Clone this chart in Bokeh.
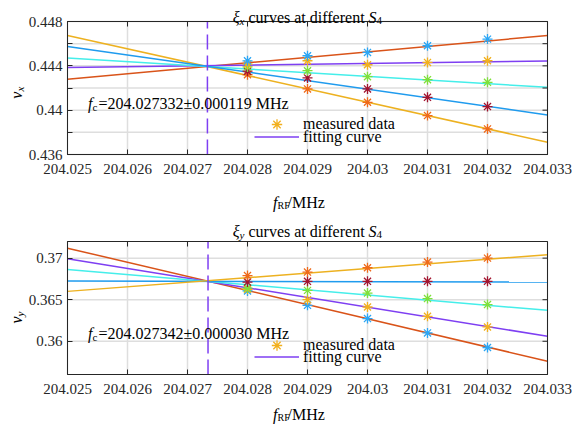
import math
from bokeh.plotting import figure
from bokeh.models import Range1d, FixedTicker, LinearAxis, Label, Legend, LegendItem
from bokeh.layouts import column
from bokeh.embed import file_html
from bokeh.resources import INLINE

# ---------------- data ----------------
fit_x = [204.025, 204.033]
meas_x = [204.028, 204.029, 204.030, 204.031, 204.032]

x_ticks = [204.025, 204.026, 204.027, 204.028, 204.029, 204.030, 204.031, 204.032, 204.033]
x_tick_labels = ["204.025", "204.026", "204.027", "204.028", "204.029",
                 "204.03", "204.031", "204.032", "204.033"]

# top panel (xi_x)
top_y_range = [0.436, 0.448]
top_fc = 204.027332
top_fc_text = "=204.027332\u00b10.000119 MHz"
top_fc_y = 0.44059
top_y_ticks = [0.436, 0.438, 0.440, 0.442, 0.444, 0.446, 0.448]
top_y_tick_labels = ["0.436", "", "0.44", "", "0.444", "", "0.448"]
top_fit_names = ["red", "yellow", "purple", "cyan", "blue"]
top_fit_left = [0.44278, 0.44674, 0.44386, 0.44470, 0.44575]
top_fit_right = [0.44674, 0.43711, 0.44443, 0.44206, 0.43957]
top_pts_blue = [0.44445, 0.44491, 0.44521, 0.44581, 0.44641]
top_pts_yellow = [0.44415, 0.44446, 0.44410, 0.44431, 0.44446]
top_pts_green = [0.44390, 0.44356, 0.44302, 0.44275, 0.44251]
top_pts_darkred = [0.44352, 0.44291, 0.44192, 0.44116, 0.44032]
top_pts_orange = [0.44320, 0.44192, 0.44071, 0.43951, 0.43831]

# bottom panel (xi_y)
bot_y_range = [0.356, 0.372]
bot_fc = 204.027342
bot_fc_text = "=204.027342\u00b10.000030 MHz"
bot_fc_y = 0.36093
bot_y_ticks = [0.360, 0.365, 0.370]
bot_y_tick_labels = ["0.36", "0.365", "0.37"]
bot_fit_names = ["red", "purple", "cyan", "blue", "yellow"]
bot_fit_left = [0.37120, 0.36993, 0.36864, 0.36724, 0.36600]
bot_fit_right = [0.35760, 0.36060, 0.36372, 0.36712, 0.37041]
bot_pts_orange = [0.36790, 0.36832, 0.36884, 0.36952, 0.37000]
bot_pts_darkred = [0.36712, 0.36721, 0.36721, 0.36721, 0.36721]
bot_pts_green = [0.36640, 0.36612, 0.36580, 0.36513, 0.36441]
bot_pts_yellow = [0.36625, 0.36500, 0.36412, 0.36300, 0.36172]
bot_pts_blue = [0.36605, 0.36432, 0.36273, 0.36100, 0.35925]

# ---------------- styles ----------------
FONT = "Liberation Serif"
LINE_COL = {"red": "#D95319", "yellow": "#EDB120", "purple": "#7E3FF2",
            "cyan": "#45EEEA", "blue": "#1F9BEE"}
PT_COL = {"blue": "#2BA6F5", "yellow": "#F2B01E", "green": "#7FE03B",
          "darkred": "#A2142F", "orange": "#EF6A1A"}
AX = "#262626"
GRID = "#DEDEDE"
W = 572
BOX_L, BOX_R = 67, 25


def txt(p, x, y, text, size, italic=False, align="left", xo=0, yo=0, angle=0.0):
    p.add_layout(Label(x=x, y=y, x_offset=xo, y_offset=yo, text=text,
                       text_font=FONT, text_font_size=f"{size}px",
                       text_font_style="italic" if italic else "normal",
                       text_align=align, text_baseline="alphabetic",
                       text_color="black", angle=angle))


def style_axis(ax, ticks, labels, standoff):
    ax.ticker = FixedTicker(ticks=ticks)
    ax.axis_line_color = AX
    ax.axis_line_width = 1
    ax.major_tick_in = 5
    ax.major_tick_out = 0
    ax.major_tick_line_color = AX
    ax.minor_tick_line_color = None
    ax.major_label_text_font = FONT
    ax.major_label_text_color = AX
    ax.major_label_text_font_size = "15px"
    ax.major_label_standoff = standoff
    ax.major_label_overrides = dict(zip(ticks, labels))


def one_legend(label, renderer, x, y, gh):
    return Legend(items=[LegendItem(label=label, renderers=[renderer])],
                  location=(x, y), padding=0, margin=0, spacing=0,
                  glyph_width=45, glyph_height=gh, label_height=gh, label_standoff=4,
                  label_text_font=FONT, label_text_font_size="16px",
                  label_text_color="black", border_line_color=None,
                  background_fill_alpha=0)


def panel(height, box_t, box_b, yr, yticks, ylabels, fit_names, fit_left, fit_right,
          pts, fc, fc_text, fc_y, sub, title_yo, ylab_yo, xlab_yo, leg_y, leg_dy):
    x0, x1 = fit_x
    y0, y1 = yr
    sx = (x1 - x0) / (W - BOX_L - BOX_R)
    sy = (y1 - y0) / (height - box_t - box_b)
    p = figure(width=W, height=height,
               x_range=Range1d(x0 - BOX_L * sx, x1 + BOX_R * sx),
               y_range=Range1d(y0 - box_b * sy, y1 + box_t * sy),
               x_axis_location=None, y_axis_location=None, min_border=0,
               output_backend="svg", toolbar_location=None)
    p.outline_line_color = None
    p.grid.visible = False

    nx, ny = len(x_ticks), len(yticks)
    # grid inside the box
    p.segment(x0=x_ticks, y0=[y0] * nx, x1=x_ticks, y1=[y1] * nx,
              line_color=GRID, line_width=1.5)
    p.segment(x0=[x0] * ny, y0=yticks, x1=[x1] * ny, y1=yticks,
              line_color=GRID, line_width=1.5)

    # fits, dashed f_c line, measured points
    fit_r = {}
    for name, a, b in zip(fit_names, fit_left, fit_right):
        fit_r[name] = p.line(fit_x, [a, b], line_color=LINE_COL[name], line_width=1.5)
    p.line([fc, fc], [y0, y1], line_color=LINE_COL["purple"], line_width=1.5,
           line_dash="15 6")
    pt_r = {}
    for name, ys in pts:
        pt_r[name] = p.scatter(meas_x, ys, marker="asterisk", size=10,
                               line_color=PT_COL[name], line_width=1.3)

    # box, axes and ticks on all four sides
    p.quad(left=[x0], right=[x1], bottom=[y0], top=[y1], fill_color=None,
           line_color=AX, line_width=1)
    xb = LinearAxis(fixed_location=y0, bounds=(x0, x1))
    style_axis(xb, x_ticks, x_tick_labels, 9)
    p.add_layout(xb, "below")
    yl = LinearAxis(fixed_location=x0, bounds=(y0, y1))
    style_axis(yl, yticks, ylabels, 5)
    p.add_layout(yl, "left")
    p.ray(x=x_ticks, y=[y1] * nx, length=5, length_units="screen",
          angle=-math.pi / 2, line_color=AX, line_width=1)
    p.ray(x=[x1] * ny, y=yticks, length=5, length_units="screen",
          angle=math.pi, line_color=AX, line_width=1)

    # legend (one row each so the marker keeps its size)
    lx = BOX_L + 187
    p.add_layout(one_legend("measured data", pt_r["yellow"], lx, leg_y + leg_dy, 26))
    p.add_layout(one_legend("fitting curve", fit_r["purple"], lx, leg_y, 13))

    # f_c annotation
    txt(p, x0, fc_y, "f", 16, True, "right", xo=25)
    txt(p, x0, fc_y, "c", 11, False, "left", xo=25, yo=-3)
    txt(p, x0, fc_y, fc_text, 16, False, "left", xo=31)

    # title
    txt(p, x0, y1, "\u03be", 16, True, "right", xo=172, yo=title_yo)
    txt(p, x0, y1, sub, 11, True, "left", xo=172, yo=title_yo - 3)
    txt(p, x0, y1, "curves at different", 16, False, "left", xo=181, yo=title_yo)
    txt(p, x0, y1, "S", 16, True, "left", xo=301, yo=title_yo)
    txt(p, x0, y1, "4", 11, False, "left", xo=309, yo=title_yo - 3)

    # y label (rotated)
    ym = (y0 + y1) / 2
    txt(p, x0, ym, "v", 16, True, "right", xo=-51, yo=ylab_yo, angle=math.pi / 2)
    txt(p, x0, ym, sub, 11, True, "left", xo=-48, yo=ylab_yo, angle=math.pi / 2)

    # x label
    txt(p, x0, y0, "f", 16, True, "right", xo=210, yo=xlab_yo)
    txt(p, x0, y0, "RF", 10, False, "left", xo=210, yo=xlab_yo - 3)
    txt(p, x0, y0, "/MHz", 16, False, "left", xo=220, yo=xlab_yo)
    return p


p1 = panel(212, 21, 58, top_y_range, top_y_ticks, top_y_tick_labels,
           top_fit_names, top_fit_left, top_fit_right,
           [("orange", top_pts_orange), ("darkred", top_pts_darkred),
            ("green", top_pts_green), ("yellow", top_pts_yellow), ("blue", top_pts_blue)],
           top_fc, top_fc_text, top_fc_y, "x", 4, -3.6, -48, 66.5, 8.5)
p2 = panel(216, 29, 54, bot_y_range, bot_y_ticks, bot_y_tick_labels,
           bot_fit_names, bot_fit_left, bot_fit_right,
           [("blue", bot_pts_blue), ("yellow", bot_pts_yellow), ("green", bot_pts_green),
            ("darkred", bot_pts_darkred), ("orange", bot_pts_orange)],
           bot_fc, bot_fc_text, bot_fc_y, "y", 10, -8.5, -40, 62.5, 8.0)

layout = column(p1, p2, spacing=0)
open("out.html", "w").write(file_html(layout, INLINE))
